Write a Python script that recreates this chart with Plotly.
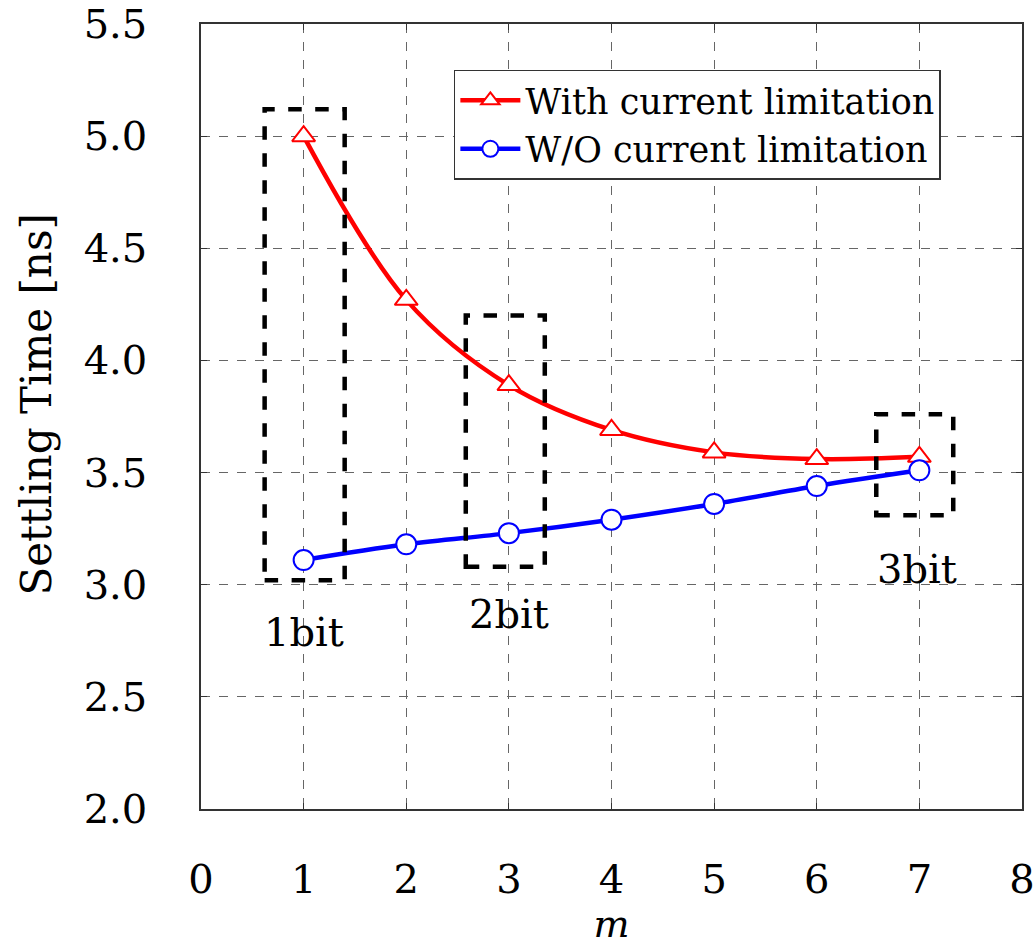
import plotly.graph_objects as go

m = [1, 2, 3, 4, 5, 6, 7]
with_limit = [5.00, 4.27, 3.89, 3.69, 3.59, 3.56, 3.57]
without_limit = [3.11, 3.18, 3.23, 3.29, 3.36, 3.44, 3.51]

boxes = [  # x0, x1, y0, y1
    (0.62, 1.40, 3.02, 5.12),
    (2.58, 3.35, 3.08, 4.20),
    (6.58, 7.33, 3.31, 3.76),
]
box_labels = ["1bit", "2bit", "3bit"]
label_x = [1.0, 3.0, 6.98]
label_y = [2.79, 2.87, 3.07]

FONT = "DejaVu Serif"

fig = go.Figure()
fig.add_trace(go.Scatter(
    x=m, y=with_limit, mode="lines+markers", name="With current limitation",
    line=dict(color="#ff0000", width=4.5, shape="spline"),
    marker=dict(symbol="triangle-up", size=20, color="white",
                line=dict(color="#ff0000", width=2)),
))
fig.add_trace(go.Scatter(
    x=m, y=without_limit, mode="lines+markers", name="W/O current limitation",
    line=dict(color="#0000ff", width=4.5, shape="spline"),
    marker=dict(symbol="circle", size=20, color="white",
                line=dict(color="#0000ff", width=2)),
))

for (x0, x1, y0, y1) in boxes:
    fig.add_shape(type="rect", x0=x0, x1=x1, y0=y0, y1=y1, xref="x", yref="y",
                  line=dict(color="black", width=4.5, dash="dash"))

for t, xx, yy in zip(box_labels, label_x, label_y):
    fig.add_annotation(x=xx, y=yy, text=t, showarrow=False,
                       font=dict(family=FONT, size=40, color="black"))

# y-axis title placed as rotated text
fig.add_annotation(x=-0.2, y=0.515, xref="paper", yref="paper",
                   text="Settling Time [ns]", textangle=-90, showarrow=False,
                   xanchor="center", yanchor="middle",
                   font=dict(family=FONT, size=42, color="black"))

fig.update_layout(
    width=1036, height=946,
    margin=dict(l=201, r=14, t=24, b=137, autoexpand=False),
    paper_bgcolor="white", plot_bgcolor="white",
    font=dict(family=FONT, size=40, color="black"),
    showlegend=True,
    legend=dict(x=0.308, y=0.942, xanchor="left", yanchor="top",
                bgcolor="white", bordercolor="#333333", borderwidth=1.5,
                font=dict(family=FONT, size=35), itemwidth=60,
                tracegroupgap=0),
)
fig.update_xaxes(
    range=[0, 8], dtick=1, tick0=0, showline=True, linecolor="#333333", linewidth=1.5,
    mirror="ticks", ticks="inside", ticklen=6, tickcolor="#333333",
    showgrid=True, gridcolor="#666666", griddash="dash", gridwidth=1,
    zeroline=False, ticklabelstandoff=34,
    tickfont=dict(family=FONT, size=40),
    title=dict(text="<i>m</i>", font=dict(family=FONT, size=38), standoff=14),
)
fig.update_yaxes(
    range=[2.0, 5.5], dtick=0.5, tick0=2.0, tickformat=".1f",
    showline=True, linecolor="#333333", linewidth=1.5,
    mirror="ticks", ticks="inside", ticklen=6, tickcolor="#333333",
    showgrid=True, gridcolor="#666666", griddash="dash", gridwidth=1,
    zeroline=False, ticklabelstandoff=44,
    tickfont=dict(family=FONT, size=40),
)

fig.write_html("out.html")
